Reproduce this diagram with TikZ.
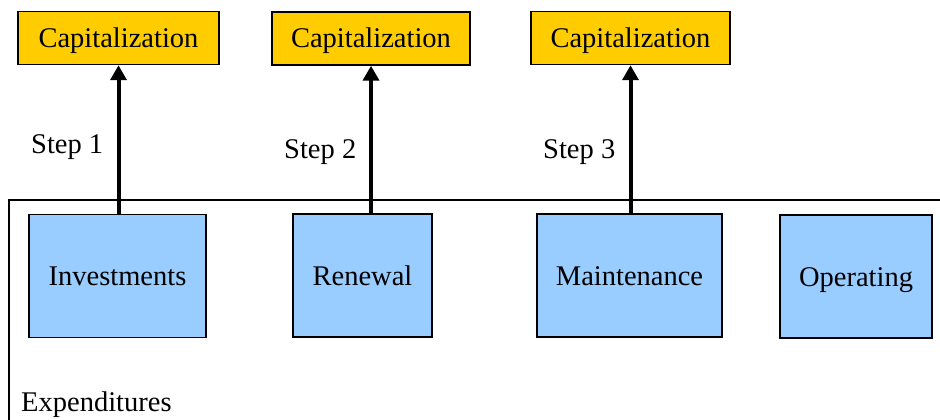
\documentclass[tikz,border=0pt]{standalone}
\usepackage{fontspec}
\setmainfont{Liberation Serif}
\usepackage[dvipsnames]{xcolor}
\usetikzlibrary{arrows.meta}
\definecolor{capgold}{HTML}{FFCC00}
\definecolor{expblue}{HTML}{99CCFF}

\begin{document}
\begin{tikzpicture}
  [x=1pt,y=-1pt,every node/.style={font=\fontsize{28.5}{32}\selectfont,inner sep=0pt},
   capbox/.style={draw,line width=1.5pt,fill=capgold,minimum height=53pt,
     text height=19pt,text depth=0pt},
   expbox/.style={draw,line width=1.5pt,fill=expblue,minimum height=123pt,
     text height=19pt,text depth=0pt},
   flow/.style={line width=4pt,-{Triangle[length=15pt,width=16pt]}}]
  \useasboundingbox (0,0) rectangle (940,420);

  % expenditures frame
  \draw[line width=1.3pt] (940,200) -- (9,200) -- (9,420);
  \node (exp) at (21,411) [anchor=base west] {Expenditures};

  \node (cap1) at (118.5,38) [capbox,minimum width=201pt] {Capitalization};
  \node (cap2) at (371,38.5) [capbox,minimum width=198pt] {Capitalization};
  \node (cap3) at (630.5,38) [capbox,minimum width=199pt] {Capitalization};

  \node (inv)   at (117.5,276) [expbox,minimum width=177pt] {Investments};
  \node (ren)   at (362.5,275.5) [expbox,minimum width=139pt] {Renewal};
  \node (maint) at (629.5,275.5) [expbox,minimum width=185pt] {Maintenance};
  \node (oper)  at (856,276.5) [expbox,minimum width=152pt] {Operating};

  \node (step1) at (31,153) [anchor=base west] {Step 1};
  \node (step2) at (284,158) [anchor=base west] {Step 2};
  \node (step3) at (543,158) [anchor=base west] {Step 3};

  \foreach \from/\to in {inv/cap1,ren/cap2,maint/cap3}
    \draw[flow] (\from.north -| \to.south) -- (\to.south);
\end{tikzpicture}
\end{document}
